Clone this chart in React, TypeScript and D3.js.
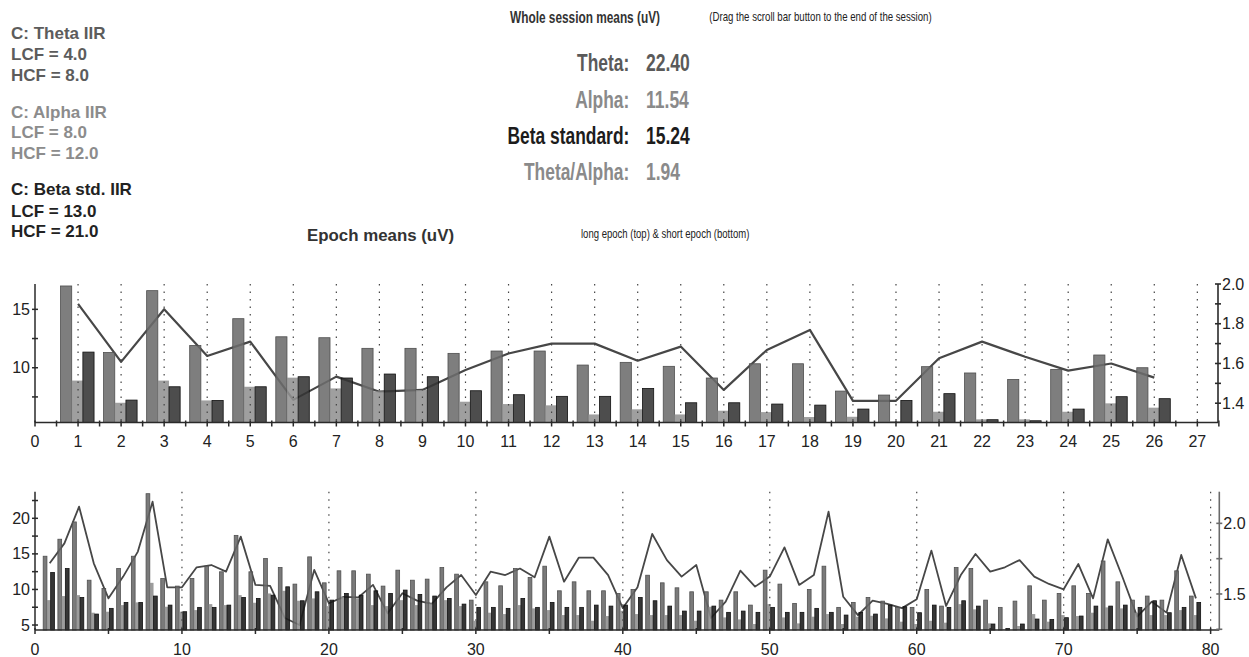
import React, { useEffect, useRef } from 'react';
import * as d3 from 'd3';

// ---- long epochs (top panel) ----
const topTheta = [17.0, 11.3, 16.6, 11.9, 14.2, 12.65, 12.57, 11.66, 11.66, 11.23, 11.43, 11.43, 10.23, 10.46, 10.12, 9.12, 10.34, 10.34, 8.0, 7.66, 10.09, 9.55, 9.0, 9.86, 11.09, 10.0];
const topAlpha = [8.9, 7.0, 8.9, 7.2, 8.37, 9.15, 8.23, 7.98, 8.09, 7.09, 6.89, 6.78, 6.0, 6.44, 6.0, 6.32, 6.2, 5.78, 5.8, 5.43, 6.23, 5.58, 5.58, 6.23, 6.95, 6.58];
const topBeta = [11.34, 7.23, 8.37, 7.2, 8.37, 9.23, 9.12, 9.46, 9.23, 8.03, 7.69, 7.55, 7.55, 8.23, 7.0, 7.0, 6.89, 6.8, 6.46, 7.2, 7.78, 5.55, 5.46, 6.46, 7.52, 7.35];
const topRatio = [1.9, 1.608, 1.873, 1.638, 1.71, 1.417, 1.534, 1.458, 1.467, 1.567, 1.65, 1.7, 1.7, 1.614, 1.685, 1.467, 1.668, 1.769, 1.412, 1.412, 1.626, 1.71, 1.634, 1.564, 1.6, 1.529];

const topXLabels = [0, 1, 2, 3, 4, 5, 6, 7, 8, 9, 10, 11, 12, 13, 14, 15, 16, 17, 18, 19, 20, 21, 22, 23, 24, 25, 26, 27];
const topLeftLabels = [10, 15];
const topLeftMinor = [7.5, 12.5];
const topRightLabels = [1.4, 1.6, 1.8, 2.0];
const topRightMinor = [1.5, 1.7, 1.9];

// ---- short epochs (bottom panel) ----
const botTheta = [14.67, 17.06, 19.49, 11.3, 10.14, 12.94, 14.67, 23.46, 11.54, 10.47,
  11.54, 13.27, 12.48, 17.6, 12.48, 14.35, 13.08, 10.75, 14.58, 10.93,
  12.62, 12.62, 12.15, 10.47, 12.71, 11.3, 11.45, 13.08, 12.15, 8.5,
  11.07, 10.51, 12.94, 11.68, 13.27, 9.81, 11.07, 9.81, 9.81, 9.44,
  10.0, 12.0, 10.93, 10.23, 9.67, 9.67, 8.5, 9.67, 7.8, 12.71,
  10.75, 8.04, 10.0, 13.27, 7.48, 8.18, 8.88, 8.36, 7.48, 7.48,
  10.0, 7.66, 13.08, 12.94, 8.5, 7.48, 8.36, 10.51, 8.5, 9.44,
  10.51, 9.44, 14.0, 11.07, 8.5, 9.07, 8.5, 12.62, 9.07];
const botAlpha = [8.5, 9.07, 9.2, 6.73, 6.87, 7.8, 8.18, 10.93, 7.57, 6.87,
  7.1, 7.94, 7.8, 9.2, 8.13, 9.44, 9.81, 8.41, 8.74, 7.66,
  8.97, 8.74, 7.8, 7.66, 8.5, 7.8, 8.04, 8.5, 7.66, 5.6,
  6.73, 6.54, 7.8, 7.34, 7.1, 6.4, 6.4, 5.6, 6.26, 7.0,
  6.54, 6.4, 6.4, 6.4, 5.6, 7.57, 6.07, 5.79, 5.14, 7.94,
  6.07, 5.23, 6.17, 6.54, 5.14, 6.17, 6.3, 5.93, 5.47, 5.14,
  5.6, 5.33, 7.94, 7.2, 5.23, 4.4, 4.86, 6.54, 5.47, 6.4,
  6.26, 6.73, 7.48, 7.34, 6.73, 6.4, 6.4, 7.1, 6.4];
const botBeta = [12.38, 12.94, 8.88, 6.54, 7.34, 8.18, 8.18, 9.07, 7.8, 6.87,
  7.48, 7.48, 7.8, 8.88, 8.74, 9.2, 10.37, 8.41, 9.67, 8.5,
  9.44, 9.2, 9.81, 9.44, 9.91, 9.3, 9.07, 8.74, 7.94, 7.48,
  7.48, 7.34, 8.74, 7.48, 8.18, 7.48, 7.48, 7.8, 7.66, 7.8,
  8.88, 8.41, 7.66, 6.96, 6.96, 7.66, 6.78, 6.96, 6.78, 7.48,
  6.78, 6.78, 7.34, 6.78, 6.4, 6.78, 6.54, 7.8, 7.57, 6.73,
  7.8, 7.48, 8.41, 7.66, 5.14, 4.5, 5.14, 5.84, 5.79, 6.03,
  6.26, 7.66, 7.66, 7.8, 7.48, 8.41, 6.73, 7.48, 8.18];
const botRatio = [1.717, 1.858, 2.118, 1.717, 1.469, 1.623, 1.8, 2.153, 1.547, 1.547,
  1.689, 1.705, 1.658, 1.906, 1.564, 1.557, 1.33, 1.28, 1.67, 1.434,
  1.48, 1.476, 1.564, 1.363, 1.505, 1.453, 1.43, 1.547, 1.634, 1.493,
  1.658, 1.634, 1.68, 1.618, 1.906, 1.587, 1.757, 1.757, 1.634, 1.4,
  1.547, 1.925, 1.74, 1.623, 1.705, 1.33, 1.446, 1.665, 1.552, 1.623,
  1.83, 1.564, 1.634, 2.083, 1.48, 1.35, 1.453, 1.43, 1.4, 1.462,
  1.807, 1.415, 1.634, 1.783, 1.658, 1.689, 1.74, 1.623, 1.571, 1.533,
  1.712, 1.469, 1.887, 1.62, 1.34, 1.446, 1.368, 1.776, 1.469];

const botXLabels = [0, 10, 20, 30, 40, 50, 60, 70, 80];
const botXMinor = [5, 15, 25, 35, 45, 55, 65, 75];
const botLeftLabels = [5, 10, 15, 20];
const botLeftMinor = [7.5, 12.5, 17.5, 22.5];
const botRightLabels = [1.5, 2.0];
const botRightMinor = [1.25, 1.75];

const tickFont = '"Liberation Sans Narrow", "Liberation Sans", Arial, sans-serif';
const headFont = '"Liberation Sans", Arial, sans-serif';

interface Panel {
  left: number; right: number; top: number; bottom: number;
  xDomain: [number, number]; yDomain: [number, number]; rDomain: [number, number];
  group: [number, number];
  theta: number[]; alpha: number[]; beta: number[]; ratio: number[];
  xLabels: number[]; xMinor: number[]; grid: number[];
  leftLabels: number[]; leftMinor: number[];
  rightLabels: number[]; rightMinor: number[];
  lineWidth: number; colors: string[]; rightAxisColor: string;
  labelY: number;
}

function drawPanel(root: d3.Selection<SVGGElement, unknown, null, undefined>, p: Panel) {
  const g = root.append('g');
  const x = d3.scaleLinear().domain(p.xDomain).range([p.left, p.right]);
  const y = d3.scaleLinear().domain(p.yDomain).range([p.bottom, p.top]);
  const yR = d3.scaleLinear().domain(p.rDomain).range([p.bottom, p.top]);
  const sub = d3.scaleBand().domain(['theta', 'alpha', 'beta']).range(p.group);
  const epochs = p.theta.map((_, i) => i + 1);

  // ratio line sits under the bars
  const line = d3.line<number>().x((_, i) => x(epochs[i])).y(d => yR(d));
  g.append('path').datum(p.ratio)
    .attr('d', line)
    .attr('fill', 'none')
    .attr('stroke', '#474747')
    .attr('stroke-width', p.lineWidth)
    .attr('stroke-linejoin', 'round');

  const series = [
    { key: 'theta', values: p.theta, fill: p.colors[0], stroke: p.colors[1] },
    { key: 'alpha', values: p.alpha, fill: p.colors[2], stroke: 'none' },
    { key: 'beta', values: p.beta, fill: p.colors[3], stroke: p.colors[4] },
  ];
  series.forEach(s => {
    g.append('g').selectAll('rect').data(s.values).join('rect')
      .attr('x', (_, i) => x(epochs[i]) + (sub(s.key) as number))
      .attr('width', sub.bandwidth())
      .attr('y', d => y(Math.max(d, p.yDomain[0])))
      .attr('height', d => p.bottom - y(Math.max(d, p.yDomain[0])))
      .attr('fill', s.fill)
      .attr('fill-opacity', 0.88)
      .attr('stroke', s.stroke)
      .attr('stroke-width', 0.8);
  });

  // dotted grid
  g.append('g').selectAll('line').data(p.grid).join('line')
    .attr('x1', d => x(d)).attr('x2', d => x(d))
    .attr('y1', p.top).attr('y2', p.bottom)
    .attr('stroke', '#444')
    .attr('stroke-width', 1.2)
    .attr('stroke-dasharray', '1.5,6');

  const ax = g.append('g').attr('stroke', '#2a2a2a').attr('stroke-width', 1.5);
  // x axis
  ax.append('line').attr('x1', p.left).attr('x2', p.right).attr('y1', p.bottom).attr('y2', p.bottom);
  ax.selectAll('.xt').data([...p.xLabels, ...p.xMinor]).join('line')
    .attr('x1', d => x(d)).attr('x2', d => x(d))
    .attr('y1', p.bottom - 2).attr('y2', p.bottom + 4);
  // left axis
  ax.append('line').attr('x1', p.left).attr('x2', p.left).attr('y1', p.top).attr('y2', p.bottom);
  ax.selectAll('.lt').data([...p.leftLabels, ...p.leftMinor]).join('line')
    .attr('x1', p.left - 3).attr('x2', p.left + 3)
    .attr('y1', d => y(d)).attr('y2', d => y(d));
  // right axis
  const rax = g.append('g').attr('stroke', p.rightAxisColor).attr('stroke-width', 1.6);
  rax.append('line').attr('x1', p.right).attr('x2', p.right).attr('y1', p.top).attr('y2', p.bottom);
  rax.selectAll('.rt').data([...p.rightLabels, ...p.rightMinor]).join('line')
    .attr('x1', p.right - 3).attr('x2', p.right + 3)
    .attr('y1', d => yR(d)).attr('y2', d => yR(d));

  const txt = g.append('g').attr('font-family', tickFont).attr('font-size', 16).attr('fill', '#222');
  txt.selectAll('.xl').data(p.xLabels).join('text')
    .attr('x', d => x(d)).attr('y', p.labelY)
    .attr('text-anchor', 'middle')
    .text(d => d);
  txt.selectAll('.yl').data(p.leftLabels).join('text')
    .attr('x', p.left - 5).attr('y', d => y(d)).attr('dy', '0.35em')
    .attr('text-anchor', 'end')
    .text(d => d);
  txt.selectAll('.rl').data(p.rightLabels).join('text')
    .attr('x', p.right + 4).attr('y', d => yR(d)).attr('dy', '0.35em')
    .text(d => d3.format('.1f')(d));
}

const App: React.FC = () => {
  const ref = useRef<SVGGElement | null>(null);

  useEffect(() => {
    if (!ref.current) return;
    const root = d3.select(ref.current);
    root.selectAll('*').remove();

    drawPanel(root, {
      left: 35, right: 1218, top: 284, bottom: 422.5,
      xDomain: [0, 27.48], yDomain: [5.31, 17.17], rDomain: [1.303, 2.0],
      group: [-17.5, 16],
      theta: topTheta, alpha: topAlpha, beta: topBeta, ratio: topRatio,
      xLabels: topXLabels, xMinor: topXLabels.map(d => d + 0.5), grid: topXLabels.slice(1),
      leftLabels: topLeftLabels, leftMinor: topLeftMinor,
      rightLabels: topRightLabels, rightMinor: topRightMinor,
      lineWidth: 2.2, colors: ['#6c6c6c', '#4e4e4e', '#929292', '#343434', '#111'],
      rightAxisColor: '#2a2a2a', labelY: 447,
    });

    drawPanel(root, {
      left: 35, right: 1219.3, top: 491.7, bottom: 630,
      xDomain: [0, 80.59], yDomain: [4.3, 23.74], rDomain: [1.245, 2.224],
      group: [-6.5, 4.7],
      theta: botTheta, alpha: botAlpha, beta: botBeta, ratio: botRatio,
      xLabels: botXLabels, xMinor: botXMinor, grid: botXLabels.slice(1),
      leftLabels: botLeftLabels, leftMinor: botLeftMinor,
      rightLabels: botRightLabels, rightMinor: botRightMinor,
      lineWidth: 1.8, colors: ['#686868', '#505050', '#8e8e8e', '#1a1a1a', '#111'],
      rightAxisColor: '#6a6a6a', labelY: 655,
    });
  }, []);

  const left = [
    { t: 'C: Theta IIR', y: 39.3, c: '#5c5c5c' },
    { t: 'LCF = 4.0', y: 60, c: '#5c5c5c' },
    { t: 'HCF = 8.0', y: 81, c: '#5c5c5c' },
    { t: 'C: Alpha IIR', y: 118.3, c: '#8c8c8c' },
    { t: 'LCF = 8.0', y: 138.3, c: '#8c8c8c' },
    { t: 'HCF = 12.0', y: 159, c: '#8c8c8c' },
    { t: 'C: Beta std. IIR', y: 195, c: '#222' },
    { t: 'LCF = 13.0', y: 216.7, c: '#222' },
    { t: 'HCF = 21.0', y: 237.3, c: '#222' },
  ];
  const means = [
    { k: 'Theta:', v: '22.40', y: 71, c: '#5a5a5a' },
    { k: 'Alpha:', v: '11.54', y: 108.3, c: '#8a8a8a' },
    { k: 'Beta standard:', v: '15.24', y: 144, c: '#1c1c1c' },
    { k: 'Theta/Alpha:', v: '1.94', y: 180, c: '#8a8a8a' },
  ];

  return (
    <svg width={1249} height={657} style={{ position: 'absolute', left: 0, top: 0, background: '#fff' }}>
      <g>
        {left.map(d => (
          <text key={d.t} x={11} y={d.y} fontFamily={headFont} fontSize={17} fontWeight="bold" fill={d.c}>{d.t}</text>
        ))}
        <text x={307} y={240.5} fontFamily={headFont} fontSize={16.5} fontWeight="bold" fill="#333" textLength={147} lengthAdjust="spacingAndGlyphs">Epoch means (uV)</text>
        <text x={510} y={23} fontFamily={headFont} fontSize={16} fontWeight="bold" fill="#333" textLength={150} lengthAdjust="spacingAndGlyphs">Whole session means (uV)</text>
        <text x={709.3} y={20.5} fontFamily={tickFont} fontSize={13} fill="#222" textLength={222.4} lengthAdjust="spacingAndGlyphs">(Drag the scroll bar button to the end of the session)</text>
        <text x={581} y={238} fontFamily={tickFont} fontSize={13} fill="#222" textLength={168.3} lengthAdjust="spacingAndGlyphs">long epoch (top) &amp; short epoch (bottom)</text>
        {means.map(d => (
          <g key={d.k} fontFamily={headFont} fontSize={24} fontWeight="bold" fill={d.c}>
            <g transform={`translate(629.3, ${d.y}) scale(0.725, 1)`}>
              <text x={0} y={0} textAnchor="end">{d.k}</text>
            </g>
            <g transform={`translate(646, ${d.y}) scale(0.73, 1)`}>
              <text x={0} y={0}>{d.v}</text>
            </g>
          </g>
        ))}
      </g>
      <g ref={ref} />
    </svg>
  );
};

export default App;
